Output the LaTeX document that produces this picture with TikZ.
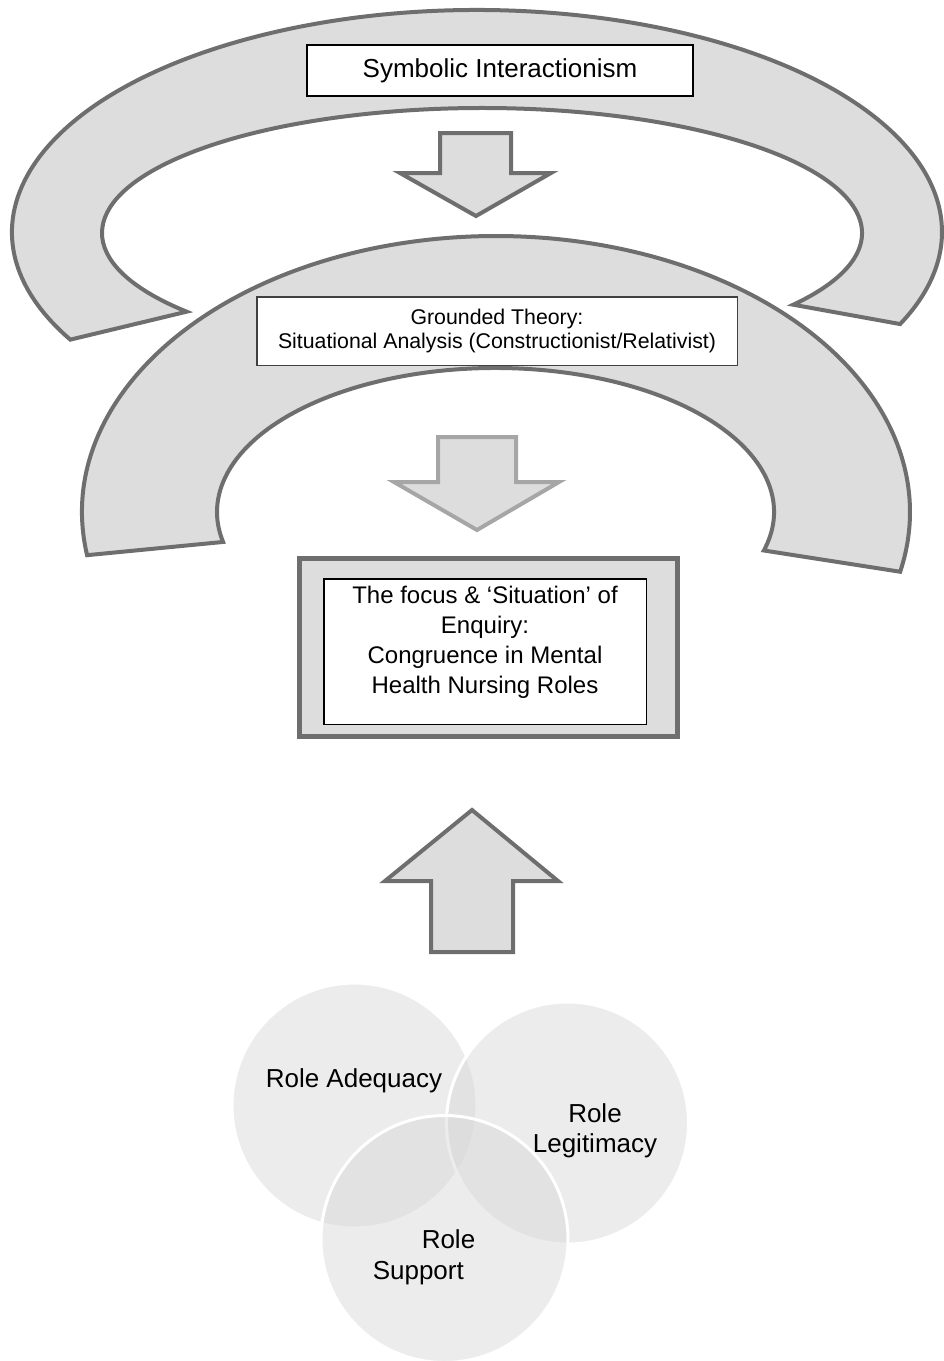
\documentclass[tikz,border=0pt]{standalone}
\usepackage{fontspec}
\setmainfont{Liberation Sans}
\usetikzlibrary{calc}
\definecolor{bandfill}{HTML}{DDDDDD}
\definecolor{bandline}{HTML}{6E6E6E}
\definecolor{softline}{HTML}{A6A6A6}
\definecolor{boxline}{HTML}{404040}
\definecolor{venngray}{HTML}{D7D7D7}
\begin{document}
\begin{tikzpicture}[x=1pt,y=-1pt,
  band/.style={fill=bandfill, draw=bandline, line width=4pt, line join=miter},
  blockarrow/.style={fill=bandfill, draw=bandline, line width=4pt, line join=miter},
  softarrow/.style={fill=bandfill, draw=softline, line width=4pt, line join=miter},
  venn/.style={fill=venngray, fill opacity=0.47, draw=white, line width=3pt},
  venntext/.style={text=black, font=\fontsize{26}{30}\selectfont, inner sep=0pt},
]
\useasboundingbox (0,0) rectangle (944,1361);

% outer band: Symbolic Interactionism
\coordinate (o1s) at ($(477,232)+(151:465 and 222)$);
\coordinate (o1e) at ($(482,233)+(35:380 and 125)$);
\draw[band] (o1s) arc[start angle=151, end angle=384.5, x radius=465, y radius=222]
  -- (o1e) arc[start angle=35, end angle=-219, x radius=380, y radius=125] -- cycle;

% inner band: Grounded Theory
\coordinate (o2s) at ($(496,512)+(171:414 and 276)$);
\coordinate (o2e) at ($(495.5,512)+(15.5:278.5 and 144)$);
\draw[band] (o2s) arc[start angle=171, end angle=372.5, x radius=414, y radius=276]
  -- (o2e) arc[start angle=15.5, end angle=-192, x radius=278.5, y radius=144] -- cycle;

% block arrows
\draw[blockarrow] (440,133) -- (511,133) -- (511,173) -- (551,173) -- (476,216)
  -- (400,173) -- (440,173) -- cycle;
\draw[softarrow] (438,437) -- (516,437) -- (516,482) -- (559,482) -- (477,530)
  -- (394,482) -- (438,482) -- cycle;
\draw[blockarrow] (472,810) -- (558,881) -- (513,881) -- (513,952) -- (431,952)
  -- (431,881) -- (385,881) -- cycle;

% labelled boxes
\node[draw=black, line width=2pt, fill=white, minimum width=386pt, minimum height=51pt,
  inner sep=0pt, font=\fontsize{26}{31}\selectfont] (symint) at (500,70.5)
  {Symbolic Interactionism};
\node[draw=boxline, line width=1.5pt, fill=white, minimum width=480.5pt, minimum height=68.5pt,
  inner sep=0pt, align=center, font=\fontsize{21.3}{23.5}\selectfont] (grounded) at (497,331)
  {Grounded Theory:\\Situational Analysis (Constructionist/Relativist)};

% focus of enquiry
\node[draw=bandline, line width=5pt, fill=bandfill, minimum width=378pt, minimum height=178pt,
  inner sep=0pt] (frame) at (488.5,647.5) {};
\node[draw=black, line width=1.5pt, fill=white, minimum width=322.5pt, minimum height=145.5pt,
  inner sep=0pt] (focusbox) at (485,651.5) {};
\node[align=center, inner sep=0pt, font=\fontsize{24}{30}\selectfont] (focus) at (485,642)
  {The focus \& ‘Situation’ of\\Enquiry:\\Congruence in Mental\\Health Nursing Roles};

% role circles
\draw[venn] (354.5,1105.5) circle[radius=122.5];
\draw[venn] (567.5,1123) circle[radius=121];
\draw[venn] (444.5,1239) circle[radius=123.5];

\node[venntext] (adequacy) at (354,1081) {Role Adequacy};
\node[venntext, align=center] (legitimacy) at (595,1131) {Role\\Legitimacy};
\node[venntext, align=left, font=\fontsize{26}{31}\selectfont] (support) at (424,1257.5)
  {\hspace*{49pt}Role\\Support};
\end{tikzpicture}
\end{document}
